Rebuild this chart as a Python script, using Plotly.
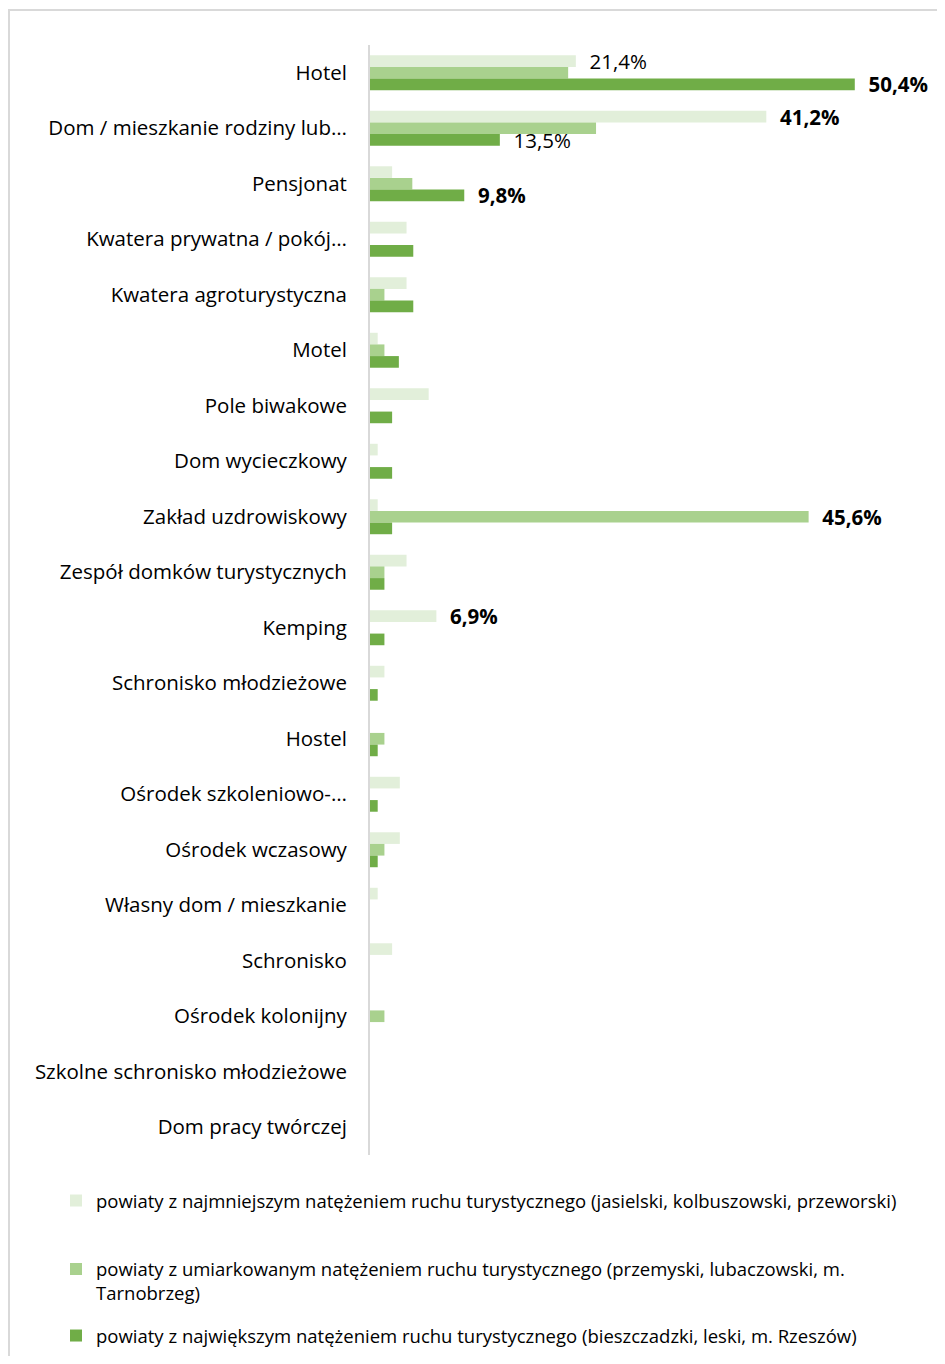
import plotly.graph_objects as go

# categories (top to bottom)
categories = [
    "Hotel", "Dom / mieszkanie rodziny lub…", "Pensjonat", "Kwatera prywatna / pokój…",
    "Kwatera agroturystyczna", "Motel", "Pole biwakowe", "Dom wycieczkowy",
    "Zakład uzdrowiskowy", "Zespół domków turystycznych", "Kemping",
    "Schronisko młodzieżowe", "Hostel", "Ośrodek szkoleniowo-…", "Ośrodek wczasowy",
    "Własny dom / mieszkanie", "Schronisko", "Ośrodek kolonijny",
    "Szkolne schronisko młodzieżowe", "Dom pracy twórczej",
]

# series values (% of respondents)
low_traffic = [21.4, 41.2, 2.3, 3.8, 3.8, 0.8, 6.1, 0.8, 0.8, 3.8, 6.9, 1.5, 0.0, 3.1, 3.1, 0.8, 2.3, 0.0, 0.0, 0.0]
mid_traffic = [20.6, 23.5, 4.4, 0.0, 1.5, 1.5, 0.0, 0.0, 45.6, 1.5, 0.0, 0.0, 1.5, 0.0, 1.5, 0.0, 0.0, 1.5, 0.0, 0.0]
high_traffic = [50.4, 13.5, 9.8, 4.5, 4.5, 3.0, 2.3, 2.3, 2.3, 1.5, 1.5, 0.8, 0.8, 0.8, 0.8, 0.0, 0.0, 0.0, 0.0, 0.0]

# which values get a data label, and whether it is bold
low_labels = {0: False, 1: True, 10: True}
mid_labels = {8: True}
high_labels = {0: True, 1: False, 2: True}

series_names = [
    "powiaty z najmniejszym natężeniem ruchu turystycznego (jasielski, kolbuszowski, przeworski)",
    "powiaty z umiarkowanym natężeniem ruchu turystycznego (przemyski, lubaczowski, m.<br>Tarnobrzeg)",
    "powiaty z największym natężeniem ruchu turystycznego (bieszczadzki, leski, m. Rzeszów)",
]
colors = ["#E2EFDA", "#A9D18E", "#70AD47"]


def make_text(values, labels):
    out = []
    for i, v in enumerate(values):
        if i in labels:
            s = f"{v:.1f}%".replace(".", ",")
            if labels[i]:
                s = f"<b>{s}</b>"
            out.append("\u00a0\u00a0" + s)
        else:
            out.append("")
    return out


legend_ids = ["legend", "legend2", "legend3"]

fig = go.Figure()
for i, (vals, labs) in enumerate([(low_traffic, low_labels), (mid_traffic, mid_labels), (high_traffic, high_labels)]):
    fig.add_trace(go.Bar(
        y=categories, x=vals, orientation="h",
        name=series_names[i], legend=legend_ids[i],
        marker=dict(color=colors[i], line=dict(width=0)),
        text=make_text(vals, labs), textposition="outside",
        constraintext="none", cliponaxis=False,
        textfont=dict(family="Open Sans", size=20.5, color="black"),
        hoverinfo="x+y",
    ))

# page has an 8px body margin, so the figure is 16px smaller than the window
OFF = 8
W, H = 945 - 2 * OFF, 1364 - 2 * OFF
ml, mt = 370 - OFF, 45 - OFF
mr = W - (900 - OFF)
mb = H - (1155 - OFF)
pw, ph = W - ml - mr, H - mt - mb


def px_x(x):
    # page pixel -> paper x
    return (x - OFF - ml) / pw


def px_y(y):
    # page pixel -> paper y
    return (H - mb - (y - OFF)) / ph


def legend_box(y_mid):
    return dict(x=px_x(56), xanchor="left", y=px_y(y_mid), yanchor="middle",
                font=dict(family="Open Sans", size=18.5, color="black"),
                valign="top", bgcolor="rgba(0,0,0,0)", borderwidth=0)


fig.update_layout(
    width=W, height=H,
    margin=dict(l=ml, r=mr, t=mt, b=mb, autoexpand=False),
    paper_bgcolor="white", plot_bgcolor="white",
    barmode="group", bargap=0.37, bargroupgap=0,
    font=dict(family="Open Sans", color="black"),
    xaxis=dict(range=[0, 55.1], visible=False, showgrid=False, zeroline=False),
    yaxis=dict(autorange="reversed", showline=True, linecolor="#D9D9D9", linewidth=2,
               ticks="", ticklabelstandoff=17, showgrid=False,
               tickfont=dict(family="Open Sans", size=20.5, color="black")),
    legend=legend_box(1201),
    legend2=legend_box(1281.5),
    legend3=legend_box(1336),
    shapes=[dict(type="rect", xref="paper", yref="paper",
                 x0=px_x(OFF + 1), x1=px_x(945 + 40), y0=px_y(10), y1=px_y(1364 + 40),
                 line=dict(color="#D9D9D9", width=2), fillcolor="rgba(0,0,0,0)")],
    showlegend=True,
)

fig.write_html("out.html")
